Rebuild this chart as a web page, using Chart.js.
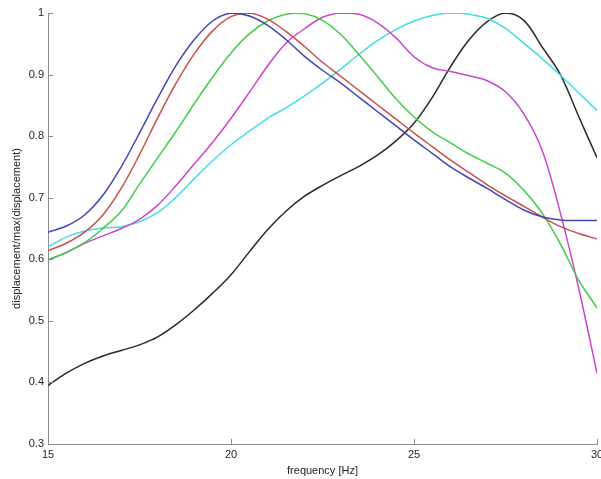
<!DOCTYPE html>
<html>
<head>
<meta charset="utf-8">
<script src="https://cdn.jsdelivr.net/npm/chart.js@4.4.1/dist/chart.umd.min.js"></script>
<style>
  html, body { margin: 0; padding: 0; background: #fff; }
  #chart { display: block; }
</style>
</head>
<body>
<canvas id="chart" width="601" height="479"></canvas>
<script>
// frequency samples [Hz]
const freq = [15, 15.5, 16, 16.5, 17, 17.5, 18, 18.5, 19, 19.5, 20, 20.5, 21, 21.5, 22, 22.5,
              23, 23.5, 24, 24.5, 25, 25.5, 26, 26.5, 27, 27.5, 28, 28.5, 29, 29.5, 30];

// normalised displacement, one array per curve
const blueVals = [0.644, 0.654, 0.672, 0.704, 0.750, 0.805, 0.862, 0.915, 0.957, 0.987, 1.000, 0.995, 0.980, 0.957, 0.930, 0.907,
                  0.886, 0.863, 0.840, 0.817, 0.794, 0.772, 0.750, 0.732, 0.715, 0.697, 0.680, 0.669, 0.664, 0.663, 0.663];
const redVals = [0.614, 0.626, 0.644, 0.672, 0.715, 0.770, 0.830, 0.886, 0.934, 0.971, 0.994, 1.000, 0.990, 0.970, 0.946, 0.920,
                 0.897, 0.874, 0.851, 0.828, 0.805, 0.783, 0.761, 0.741, 0.721, 0.703, 0.686, 0.669, 0.653, 0.642, 0.633];
const greenVals = [0.599, 0.611, 0.627, 0.650, 0.678, 0.722, 0.765, 0.808, 0.853, 0.896, 0.935, 0.966, 0.987, 0.998, 0.999, 0.988,
                   0.965, 0.932, 0.897, 0.861, 0.831, 0.807, 0.789, 0.771, 0.756, 0.740, 0.712, 0.675, 0.625, 0.566, 0.521];
const magentaVals = [0.599, 0.611, 0.626, 0.638, 0.650, 0.665, 0.688, 0.720, 0.755, 0.790, 0.829, 0.871, 0.914, 0.951, 0.974, 0.993,
                     1.000, 0.998, 0.984, 0.960, 0.929, 0.911, 0.905, 0.898, 0.890, 0.872, 0.836, 0.777, 0.675, 0.553, 0.415];
const cyanVals = [0.620, 0.636, 0.646, 0.651, 0.653, 0.661, 0.676, 0.701, 0.731, 0.760, 0.786, 0.808, 0.829, 0.846, 0.865, 0.886,
                  0.909, 0.933, 0.955, 0.973, 0.987, 0.996, 1.000, 0.998, 0.991, 0.975, 0.951, 0.926, 0.899, 0.870, 0.842];
const blackVals = [0.395, 0.415, 0.431, 0.443, 0.452, 0.461, 0.474, 0.494, 0.518, 0.545, 0.575, 0.612, 0.648, 0.678, 0.702, 0.720,
                   0.736, 0.751, 0.769, 0.792, 0.821, 0.863, 0.913, 0.956, 0.986, 1.000, 0.988, 0.945, 0.900, 0.832, 0.765];

const xTicks = [15, 20, 25, 30];
const yTicks = [0.3, 0.4, 0.5, 0.6, 0.7, 0.8, 0.9, 1];

const series = [
  { vals: blueVals, color: '#4444bb' },
  { vals: redVals, color: '#c8504a' },
  { vals: greenVals, color: '#44cc44' },
  { vals: magentaVals, color: '#cc44cc' },
  { vals: cyanVals, color: '#44dddd' },
  { vals: blackVals, color: '#2a2a2a' }
];

const axisColor = '#8c8c8c';

// small inward tick marks, matlab style
const inwardTicks = {
  id: 'inwardTicks',
  afterDatasetsDraw(chart) {
    const ctx = chart.ctx;
    const xs = chart.scales.x, ys = chart.scales.y;
    const area = chart.chartArea;
    ctx.save();
    ctx.strokeStyle = axisColor;
    ctx.lineWidth = 1;
    ctx.beginPath();
    xTicks.forEach(v => {
      const px = Math.round(xs.getPixelForValue(v)) + 0.5;
      ctx.moveTo(px, area.bottom);
      ctx.lineTo(px, area.bottom - 5);
    });
    yTicks.forEach(v => {
      const py = Math.round(ys.getPixelForValue(v)) + 0.5;
      ctx.moveTo(area.left, py);
      ctx.lineTo(area.left + 5, py);
    });
    ctx.stroke();
    ctx.restore();
  }
};

new Chart(document.getElementById('chart'), {
  type: 'line',
  data: {
    datasets: series.map(s => ({
      data: freq.map((f, i) => ({ x: f, y: s.vals[i] })),
      borderColor: s.color,
      borderWidth: 1.5,
      pointRadius: 0,
      tension: 0.35,
      fill: false
    }))
  },
  options: {
    responsive: false,
    animation: false,
    layout: { padding: { top: 13, right: 4, left: 0, bottom: 0 } },
    plugins: { legend: { display: false }, tooltip: { enabled: false } },
    scales: {
      x: {
        type: 'linear',
        min: 15, max: 30,
        afterBuildTicks(scale) { scale.ticks = xTicks.map(v => ({ value: v })); },
        afterFit(scale) { scale.height = 35; scale.paddingLeft = 0; scale.paddingRight = 0; },
        grid: { display: false, drawTicks: false },
        border: { color: axisColor, width: 1 },
        ticks: { color: '#222', padding: 4, maxRotation: 0, font: { family: 'Liberation Sans, Arial', size: 11 } },
        title: {
          display: true, text: 'frequency [Hz]', color: '#222',
          padding: { top: 0, bottom: 1 },
          font: { family: 'Liberation Sans, Arial', size: 11 }
        }
      },
      y: {
        type: 'linear',
        min: 0.3, max: 1,
        afterBuildTicks(scale) { scale.ticks = yTicks.map(v => ({ value: v })); },
        afterFit(scale) { scale.width = 48; scale.paddingTop = 0; scale.paddingBottom = 0; },
        grid: { display: false, drawTicks: false },
        border: { color: axisColor, width: 1 },
        ticks: {
          color: '#222', padding: 4,
          font: { family: 'Liberation Sans, Arial', size: 11 },
          callback: v => String(Math.round(v * 10) / 10)
        },
        title: {
          display: true, text: 'displacement/max(displacement)', color: '#222',
          padding: { top: 10, bottom: 0 },
          font: { family: 'Liberation Sans, Arial', size: 11 }
        }
      }
    }
  },
  plugins: [inwardTicks]
});
</script>
</body>
</html>
